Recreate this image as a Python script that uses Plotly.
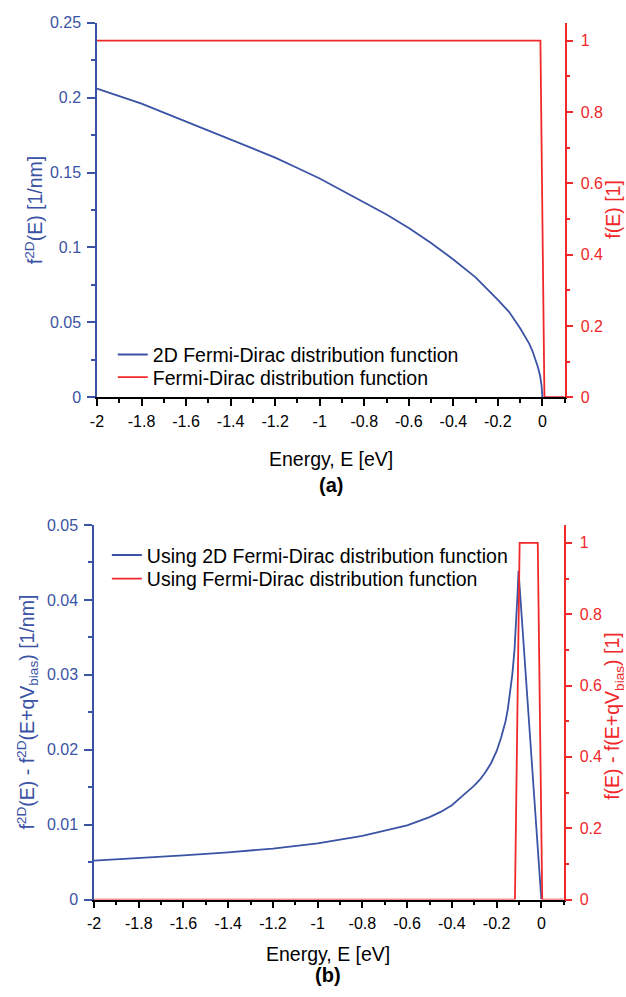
import plotly.graph_objects as go

# ---------------- data ----------------
# panel (a)
energy_a_2d = [-2.0, -1.9, -1.8, -1.7, -1.6, -1.5, -1.4, -1.3, -1.2, -1.1, -1.0, -0.9, -0.8,
               -0.7, -0.6, -0.5, -0.4, -0.3, -0.2, -0.15, -0.1, -0.08, -0.06, -0.045, -0.03,
               -0.02, -0.01, -0.004, 0.0]
f2d_a = [0.206, 0.201, 0.196, 0.190, 0.184, 0.178, 0.172, 0.166, 0.160, 0.153, 0.146, 0.138, 0.130,
         0.122, 0.113, 0.103, 0.092, 0.080, 0.065, 0.057, 0.046, 0.041, 0.036, 0.031, 0.025,
         0.020, 0.014, 0.008, 0.0]
energy_a_fd = [-2.0, -0.009, 0.009, 0.1]
fd_a = [1.0, 1.0, 0.0, 0.0]

# panel (b)
energy_b_2d = [-2.0, -1.8, -1.6, -1.4, -1.2, -1.0, -0.8, -0.6, -0.5, -0.45, -0.4, -0.35, -0.3,
               -0.275, -0.25, -0.225, -0.2, -0.18, -0.16, -0.15, -0.14, -0.13, -0.12, -0.115,
               -0.11, -0.106, -0.102, 0.0]
f2d_b = [0.0052, 0.0055, 0.0059, 0.0063, 0.0068, 0.0075, 0.0085, 0.0099, 0.0110, 0.0117, 0.0126,
         0.0139, 0.0152, 0.0160, 0.0170, 0.0182, 0.0198, 0.0216, 0.0238, 0.0254, 0.0274, 0.0300,
         0.0333, 0.0356, 0.0385, 0.0410, 0.0439, 0.0]
energy_b_fd = [-2.0, -0.118, -0.097, -0.016, 0.004, 0.1]
fd_b = [0.0, 0.0, 1.0, 1.0, 0.0, 0.0]

# ticks
x_tick_vals = [-2.0, -1.8, -1.6, -1.4, -1.2, -1.0, -0.8, -0.6, -0.4, -0.2, 0.0]
x_tick_text = ["-2", "-1.8", "-1.6", "-1.4", "-1.2", "-1", "-0.8", "-0.6", "-0.4", "-0.2", "0"]
ya_tick_vals = [0, 0.05, 0.1, 0.15, 0.2, 0.25]
ya_tick_text = ["0", "0.05", "0.1", "0.15", "0.2", "0.25"]
yb_tick_vals = [0, 0.01, 0.02, 0.03, 0.04, 0.05]
yb_tick_text = ["0", "0.01", "0.02", "0.03", "0.04", "0.05"]
yr_tick_vals = [0, 0.2, 0.4, 0.6, 0.8, 1.0]
yr_tick_text = ["0", "0.2", "0.4", "0.6", "0.8", "1"]

# ---------------- style ----------------
W, H = 626, 997
BLUE = "#3a53a4"
RED = "#f0282a"
FONT = "Liberation Sans, Arial, sans-serif"
TICKF = 16
TITLEF = 19.5


def px_x(p):
    return p / W


def px_y(p):
    return 1 - p / H


fig = go.Figure()

fig.add_trace(go.Scatter(x=energy_a_2d, y=f2d_a, mode="lines", line=dict(color=BLUE, width=1.8),
                         name="2D Fermi-Dirac distribution function", xaxis="x", yaxis="y",
                         legend="legend", showlegend=True))
fig.add_trace(go.Scatter(x=energy_a_fd, y=fd_a, mode="lines", line=dict(color=RED, width=1.8),
                         name="Fermi-Dirac distribution function", xaxis="x", yaxis="y2",
                         legend="legend2", showlegend=True))
fig.add_trace(go.Scatter(x=energy_b_2d, y=f2d_b, mode="lines", line=dict(color=BLUE, width=1.8),
                         name="Using 2D Fermi-Dirac distribution function", xaxis="x2", yaxis="y3",
                         legend="legend3", showlegend=True))
fig.add_trace(go.Scatter(x=energy_b_fd, y=fd_b, mode="lines", line=dict(color=RED, width=1.8),
                         name="Using Fermi-Dirac distribution function", xaxis="x2", yaxis="y4",
                         legend="legend4", showlegend=True))

xrange_ = [-2.0, 0.1]
dom_a_x = [px_x(91), px_x(564)]
dom_b_x = [px_x(88), px_x(563)]
dom_a_y = [px_y(396), px_y(15)]
dom_b_y = [px_y(907), px_y(526)]


def xaxis_bottom(domain, anchor):
    return dict(domain=domain, anchor=anchor, range=xrange_, showgrid=False, zeroline=False,
                showline=True, linecolor="black", linewidth=1.5,
                tickmode="array", tickvals=x_tick_vals, ticktext=x_tick_text,
                ticks="outside", ticklen=7, tickwidth=1.5, tickcolor="black",
                ticklabelstandoff=2,
                minor=dict(tickmode="linear", tick0=-2.0, dtick=0.1, ticks="outside", ticklen=4,
                           tickwidth=1.5, tickcolor="black"),
                tickfont=dict(family=FONT, size=TICKF, color="black"))


def xaxis_top(over, anchor):
    return dict(overlaying=over, anchor=anchor, side="top", range=xrange_, showgrid=False,
                zeroline=False, showline=True, linecolor="black", linewidth=1.5,
                tickmode="array", tickvals=x_tick_vals, showticklabels=False,
                ticks="inside", ticklen=7, tickwidth=1.5, tickcolor="black",
                minor=dict(tickmode="linear", tick0=-2.0, dtick=0.1, ticks="inside", ticklen=4,
                           tickwidth=1.5, tickcolor="black"))


def yaxis_left(domain, anchor, rng, vals, text, dminor):
    return dict(domain=domain, anchor=anchor, range=rng, showgrid=False, zeroline=False,
                showline=True, linecolor=BLUE, linewidth=1.5,
                tickmode="array", tickvals=vals, ticktext=text,
                ticks="outside", ticklen=8, tickwidth=1.5, tickcolor=BLUE,
                ticklabelstandoff=3,
                minor=dict(tickmode="linear", tick0=0, dtick=dminor, ticks="outside", ticklen=4,
                           tickwidth=1.5, tickcolor=BLUE),
                tickfont=dict(family=FONT, size=TICKF, color=BLUE))


def yaxis_right(over, anchor):
    return dict(overlaying=over, anchor=anchor, side="right", range=[0, 1.05], showgrid=False,
                zeroline=False, showline=True, linecolor=RED, linewidth=1.5,
                tickmode="array", tickvals=yr_tick_vals, ticktext=yr_tick_text,
                ticks="outside", ticklen=7, tickwidth=1.5, tickcolor=RED,
                ticklabelstandoff=4,
                minor=dict(tickmode="linear", tick0=0, dtick=0.1, ticks="outside", ticklen=4,
                           tickwidth=1.5, tickcolor=RED),
                tickfont=dict(family=FONT, size=TICKF, color=RED))


def legend_at(left_px, top_px):
    return dict(x=px_x(left_px), y=px_y(top_px), xanchor="left", yanchor="top",
                bgcolor="rgba(0,0,0,0)", borderwidth=0,
                font=dict(family=FONT, size=TITLEF, color="black"))


fig.update_layout(
    width=W, height=H,
    margin=dict(l=0, r=0, t=0, b=0),
    showlegend=True,
    paper_bgcolor="white", plot_bgcolor="white",
    font=dict(family=FONT, size=TICKF, color="black"),
    xaxis=xaxis_bottom(dom_a_x, "y"),
    xaxis3=xaxis_top("x", "y"),
    yaxis=yaxis_left(dom_a_y, "x", [0, 0.25], ya_tick_vals, ya_tick_text, 0.025),
    yaxis2=yaxis_right("y", "x"),
    xaxis2=xaxis_bottom(dom_b_x, "y3"),
    xaxis4=xaxis_top("x2", "y3"),
    yaxis3=yaxis_left(dom_b_y, "x2", [0, 0.05], yb_tick_vals, yb_tick_text, 0.005),
    yaxis4=yaxis_right("y3", "x2"),
    legend=legend_at(107, 333),
    legend2=legend_at(107, 356),
    legend3=legend_at(101, 537),
    legend4=legend_at(101, 561),
)

ann = [
    dict(text="f<sup>2D</sup>(E) [1/nm]", x=px_x(28), y=px_y(206), textangle=-90,
         font=dict(color=BLUE, size=TITLEF)),
    dict(text="f(E) [1]", x=px_x(612), y=px_y(205), textangle=-90,
         font=dict(color=RED, size=TITLEF)),
    dict(text="Energy, E [eV]", x=px_x(328), y=px_y(459), font=dict(color="black", size=TITLEF)),
    dict(text="<b>(a)</b>", x=px_x(328), y=px_y(485), font=dict(color="black", size=20)),
    dict(text="f<sup>2D</sup>(E) - f<sup>2D</sup>(E+qV<sub>bias</sub>) [1/nm]", x=px_x(21),
         y=px_y(716), textangle=-90, font=dict(color=BLUE, size=TITLEF)),
    dict(text="f(E) - f(E+qV<sub>bias</sub>) [1]", x=px_x(614), y=px_y(720), textangle=-90,
         font=dict(color=RED, size=TITLEF)),
    dict(text="Energy, E [eV]", x=px_x(325), y=px_y(962), font=dict(color="black", size=TITLEF)),
    dict(text="<b>(b)</b>", x=px_x(325), y=px_y(984), font=dict(color="black", size=20)),
]
for a in ann:
    a.update(xref="paper", yref="paper", showarrow=False, xanchor="center", yanchor="middle")
    a["font"]["family"] = FONT
fig.update_layout(annotations=ann)

fig.write_html(
    "out.html",
    config={"displayModeBar": False},
    post_script="document.body.style.margin='0';document.body.style.padding='0';",
)
